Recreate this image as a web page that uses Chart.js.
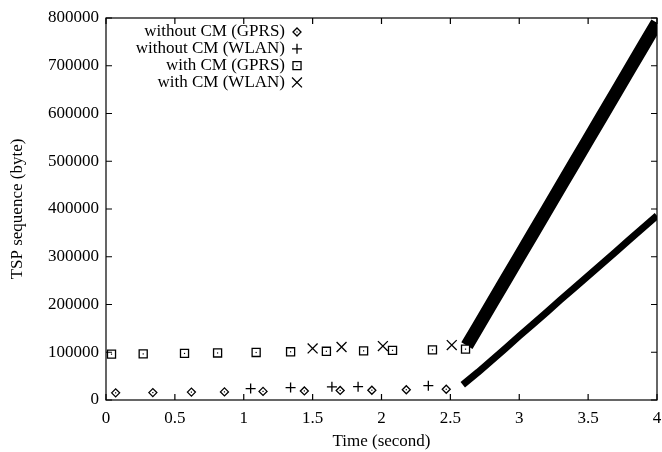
<!DOCTYPE html>
<html>
<head>
<meta charset="utf-8">
<script src="https://cdn.jsdelivr.net/npm/chart.js@4/dist/chart.umd.min.js"></script>
<style>
  html, body { margin: 0; padding: 0; background: #fff; }
  #wrap { width: 662px; height: 452px; position: relative; }
</style>
</head>
<body>
<div id="wrap"><canvas id="tspChart"></canvas></div>
<script>
// series (time in s, sequence in bytes)
var gprsNoCmTime = [0.07, 0.34, 0.62, 0.86, 1.14, 1.44, 1.70, 1.93, 2.18, 2.47];
var gprsNoCmSeq  = [15000, 15500, 16500, 17000, 18000, 19000, 20000, 20500, 21500, 22500];

var wlanNoCmTime = [1.05, 1.34, 1.64, 1.83, 2.34];
var wlanNoCmSeq  = [24000, 26000, 27500, 28000, 30000];

var gprsCmTime = [0.04, 0.27, 0.57, 0.81, 1.09, 1.34, 1.60, 1.87, 2.08, 2.37, 2.61];
var gprsCmSeq  = [96000, 96500, 97500, 98500, 99500, 101000, 102000, 103000, 104000, 105000, 106500];

var wlanCmTime = [1.50, 1.71, 2.01, 2.51];
var wlanCmSeq  = [108000, 111000, 113000, 115000];

// dense runs after the handover (markers overlap into solid bands)
var wlanNoCmBandTime = [2.59, 2.7, 2.8, 2.9, 3.0, 3.1, 3.2, 3.3, 3.4, 3.5, 3.6, 3.7, 3.8, 3.9, 4.0];
var wlanNoCmBandSeq  = [32000, 58000, 83000, 108000, 134000, 159000, 184000, 210000, 235000, 260000, 285000, 310000, 336000, 361000, 386000];

var wlanCmBandTime = [2.62, 2.7, 2.8, 2.9, 3.0, 3.1, 3.2, 3.3, 3.4, 3.5, 3.6, 3.7, 3.8, 3.9, 4.0];
var wlanCmBandSeq  = [114000, 153000, 202000, 251000, 300000, 349000, 398000, 447000, 496000, 545000, 594000, 643000, 692000, 741000, 790000];

var seriesLabels = ['without CM (GPRS)', 'without CM (WLAN)', 'with CM (GPRS)', 'with CM (WLAN)'];
var xTicks = [0, 0.5, 1, 1.5, 2, 2.5, 3, 3.5, 4];
var yTicks = [0, 100000, 200000, 300000, 400000, 500000, 600000, 700000, 800000];

function pts(xs, ys) {
  return xs.map(function (x, i) { return { x: x, y: ys[i] }; });
}

var marks = [
  { pointStyle: 'rectRot', radius: 4, dot: true },
  { pointStyle: 'cross', radius: 5, dot: false },
  { pointStyle: 'rect', radius: 5.7, dot: true },
  { pointStyle: 'crossRot', radius: 7, dot: false }
];

Chart.defaults.font.family = "'Liberation Serif', 'Times New Roman', serif";
Chart.defaults.font.size = 17;
Chart.defaults.color = '#000';

// gnuplot-ish frame: box with inward ticks on all four sides
var framePlugin = {
  id: 'frame',
  afterDraw: function (chart) {
    var ctx = chart.ctx, a = chart.chartArea;
    var xs = chart.scales.x, ys = chart.scales.y;
    var len = 6;
    ctx.save();
    ctx.strokeStyle = '#000';
    ctx.lineWidth = 1.2;
    ctx.strokeRect(a.left, a.top, a.right - a.left, a.bottom - a.top);
    ctx.beginPath();
    xTicks.forEach(function (v) {
      var px = xs.getPixelForValue(v);
      ctx.moveTo(px, a.bottom); ctx.lineTo(px, a.bottom - len);
      ctx.moveTo(px, a.top); ctx.lineTo(px, a.top + len);
    });
    yTicks.forEach(function (v) {
      var py = ys.getPixelForValue(v);
      ctx.moveTo(a.left, py); ctx.lineTo(a.left + len, py);
      ctx.moveTo(a.right, py); ctx.lineTo(a.right - len, py);
    });
    ctx.stroke();
    ctx.restore();
  }
};

// centre dots on squares / diamonds
var dotPlugin = {
  id: 'dots',
  afterDatasetsDraw: function (chart) {
    var ctx = chart.ctx;
    ctx.save();
    ctx.fillStyle = '#000';
    chart.data.datasets.forEach(function (ds, i) {
      if (!ds.dotted) return;
      chart.getDatasetMeta(i).data.forEach(function (el) {
        ctx.fillRect(el.x - 0.6, el.y - 0.6, 1.2, 1.2);
      });
    });
    ctx.restore();
  }
};

// key in the top-left corner: text right-aligned, symbol after it
var keyPlugin = {
  id: 'key',
  afterDraw: function (chart) {
    var ctx = chart.ctx, a = chart.chartArea;
    var textRight = a.left + 179, markX = a.left + 191;
    var y0 = a.top + 14, step = 16.8;
    ctx.save();
    ctx.font = "17px 'Liberation Serif', serif";
    ctx.textAlign = 'right';
    ctx.textBaseline = 'middle';
    seriesLabels.forEach(function (lab, i) {
      var y = y0 + i * step;
      ctx.fillStyle = '#000';
      ctx.fillText(lab, textRight, y);
      ctx.fillStyle = '#fff';
      ctx.strokeStyle = '#000';
      ctx.lineWidth = 1.3;
      Chart.helpers.drawPoint(ctx, { pointStyle: marks[i].pointStyle, radius: marks[i].radius, rotation: 0, borderWidth: 1.3 }, markX, y);
      if (marks[i].dot) {
        ctx.fillStyle = '#000';
        ctx.fillRect(markX - 0.6, y - 0.6, 1.2, 1.2);
      }
    });
    ctx.restore();
  }
};

function markSet(label, data, m) {
  return {
    label: label,
    data: data,
    showLine: false,
    pointStyle: m.pointStyle,
    pointRadius: m.radius,
    pointHoverRadius: m.radius,
    pointBorderWidth: 1.3,
    pointBackgroundColor: '#fff',
    pointBorderColor: '#000',
    borderColor: '#000',
    dotted: m.dot
  };
}

function bandSet(label, data, w) {
  return {
    label: label,
    data: data,
    showLine: true,
    borderColor: '#000',
    borderWidth: w,
    borderCapStyle: 'butt',
    borderJoinStyle: 'round',
    pointRadius: 0,
    tension: 0
  };
}

var ctx = document.getElementById('tspChart').getContext('2d');
var tspChart = new Chart(ctx, {
  type: 'scatter',
  data: {
    datasets: [
      markSet(seriesLabels[0], pts(gprsNoCmTime, gprsNoCmSeq), marks[0]),
      markSet(seriesLabels[1], pts(wlanNoCmTime, wlanNoCmSeq), marks[1]),
      markSet(seriesLabels[2], pts(gprsCmTime, gprsCmSeq), marks[2]),
      markSet(seriesLabels[3], pts(wlanCmTime, wlanCmSeq), marks[3]),
      bandSet(seriesLabels[1], pts(wlanNoCmBandTime, wlanNoCmBandSeq), 7),
      bandSet(seriesLabels[3], pts(wlanCmBandTime, wlanCmBandSeq), 13)
    ]
  },
  options: {
    responsive: true,
    maintainAspectRatio: false,
    animation: false,
    layout: { autoPadding: false, padding: { left: 0, right: 5, top: 18, bottom: 0 } },
    plugins: {
      legend: { display: false },
      tooltip: { enabled: false }
    },
    scales: {
      x: {
        type: 'linear',
        min: 0,
        max: 4,
        afterFit: function (s) { s.height = 52; },
        afterBuildTicks: function (s) { s.ticks = xTicks.map(function (v) { return { value: v }; }); },
        // invisible tick marks just push the labels down; visible ticks come from the frame plugin
        grid: { display: true, drawOnChartArea: false, drawTicks: true, tickLength: 8, color: 'rgba(0,0,0,0)' },
        border: { display: false },
        ticks: { padding: 0, maxRotation: 0, autoSkip: false, callback: function (v) { return String(v); } },
        title: { display: true, text: 'Time (second)', padding: { top: 0, bottom: 0 } }
      },
      y: {
        type: 'linear',
        min: 0,
        max: 800000,
        afterFit: function (s) { s.width = 106; },
        afterBuildTicks: function (s) { s.ticks = yTicks.map(function (v) { return { value: v }; }); },
        grid: { display: false, drawTicks: false },
        border: { display: false },
        ticks: { padding: 7, autoSkip: false, callback: function (v) { return String(v); } },
        title: { display: true, text: 'TSP sequence (byte)', padding: { top: 7, bottom: 0 } }
      }
    }
  },
  plugins: [framePlugin, dotPlugin, keyPlugin]
});
</script>
</body>
</html>
